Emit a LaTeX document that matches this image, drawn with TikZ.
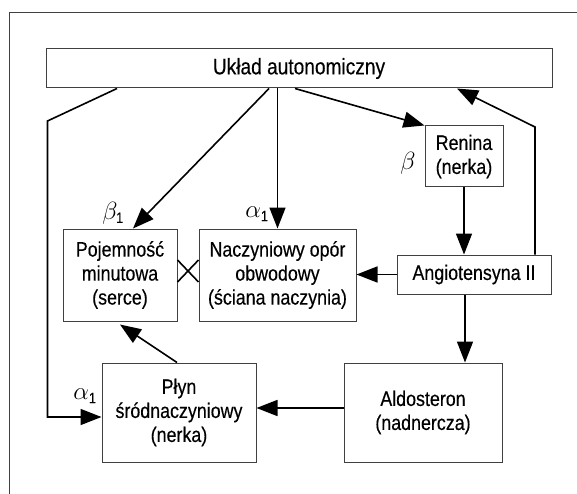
\documentclass[tikz,border=0pt]{standalone}
\usepackage{fontspec}
\setmainfont{Liberation Sans}[FakeStretch=0.85,FakeBold=0.3]
\usetikzlibrary{arrows.meta,calc}
\newcommand{\subone}{\mbox{\fontsize{15}{15}\selectfont 1}}
\begin{document}
\begin{tikzpicture}[x=1pt,y=-1pt,
  box/.style={draw=black!75,line width=1pt,align=center,inner sep=0pt,font=\fontsize{21}{24}\selectfont},
  conn/.style={line width=1.6pt,black},
  arr/.style={conn,-{Triangle[length=21pt,width=16pt]}},
  lab/.style={font=\fontsize{24}{24}\selectfont,inner sep=0pt}]
\useasboundingbox (0,0) rectangle (577,494);
\draw[black!75,line width=1pt] (9,494) -- (9,12.5) -- (577,12.5);

\node[box,minimum width=506pt,minimum height=39pt,font=\fontsize{22.5}{24}\selectfont] (U) at (299,68.5) {Układ autonomiczny};
\node[box,minimum width=114pt,minimum height=92pt] (P) at (120,275) {Pojemność\\minutowa\\(serce)};
\node[box,minimum width=157pt,minimum height=92pt] (N) at (277.5,275) {Naczyniowy opór\\obwodowy\\(ściana naczynia)};
\node[box,minimum width=78pt,minimum height=61pt] (R) at (464,156.5) {Renina\\(nerka)};
\node[box,minimum width=154pt,minimum height=39pt] (A) at (474,274.5) {Angiotensyna II};
\node[box,minimum width=154pt,minimum height=99pt] (F) at (179,412.5) {Płyn\\śródnaczyniowy\\(nerka)};
\node[box,minimum width=158pt,minimum height=99pt] (D) at (423,412.5) {Aldosteron\\(nadnercza)};

\node[lab] (b1) at (113,213) {$\beta_{\subone}$};
\node[lab] (a1) at (257,214) {$\alpha_{\subone}$};
\node[lab] (b) at (408,163) {$\beta$};
\node[lab] (a2) at (85,396) {$\alpha_{\subone}$};

\coordinate (k1) at (535,127);
\coordinate (k2) at (47.5,121);

\draw[arr] ([xshift=-30pt]U.south) -- ([xshift=13pt]P.north);
\draw[arr] (U.south -| N.north) -- (N.north);
\draw[arr] ([xshift=-4pt]U.south) -- (R.north west);
\draw[arr] (R.south) -- (R.south |- A.north);
\draw[arr] (A.west) -- (A.west -| N.east);
\draw[arr] ([xshift=-9pt]A.south) -- ([xshift=-9pt]A.south |- D.north);
\draw[arr] ([xshift=61pt]A.north) -- (k1) -- ([xshift=158pt]U.south);
\draw[arr] ([yshift=4.5pt]D.west) -- ([yshift=4.5pt]D.west -| F.east);
\draw[arr] ([xshift=-2pt]F.north) -- ([yshift=-3pt]P.south);
\draw[arr] ([xshift=-182pt]U.south) -- (k2) |- ([yshift=-4.5pt]F.west);
\draw[conn] ([yshift=15pt]P.east) -- ([yshift=-7pt]N.west);
\draw[conn] ([yshift=-7pt]P.east) -- ([yshift=15pt]N.west);
\end{tikzpicture}
\end{document}
